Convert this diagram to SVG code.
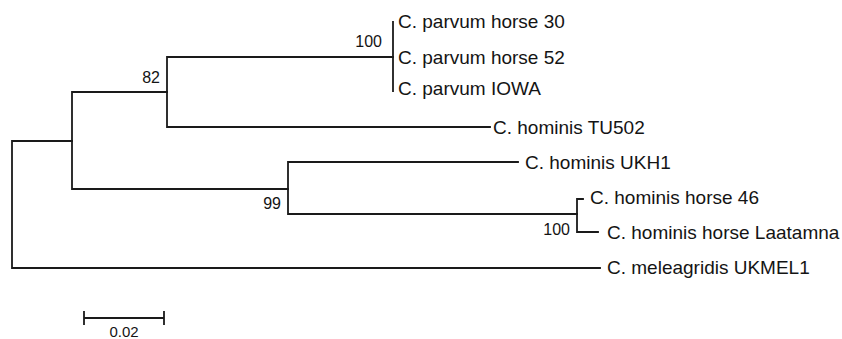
<svg xmlns="http://www.w3.org/2000/svg" width="842" height="339" viewBox="0 0 842 339">
<style>
.br{stroke:#1a1a1a;stroke-width:1.8;fill:none;stroke-linecap:square}
.leaf{font-family:"Liberation Sans",Arial,sans-serif;font-size:19px;fill:#141414}
.bs{font-family:"Liberation Sans",Arial,sans-serif;font-size:16px;fill:#141414;text-anchor:end}
.sc{font-family:"Liberation Sans",Arial,sans-serif;font-size:15px;fill:#141414;text-anchor:middle}
</style>
<rect width="842" height="339" fill="#ffffff"/>
<g id="connectors">
<path class="br" d="M12 141V268M12 141H72M12 268H600"/>
<path class="br" d="M72 92V189M72 92H167M72 189H288"/>
<path class="br" d="M167 57V127M167 57H393M167 127H490"/>
<path class="br" d="M393 22V91"/>
<path class="br" d="M288 162V214M288 162H518M288 214H577"/>
<path class="br" d="M577 199V232M577 199H583M577 232H598"/>
</g>
<g id="bootstrap">
<text class="bs" x="382" y="47">100</text>
<text class="bs" x="160" y="83">82</text>
<text class="bs" x="281" y="209">99</text>
<text class="bs" x="570" y="235">100</text>
</g>
<g id="leaf-parvum-horse30"><text class="leaf" x="398" y="28">C. parvum horse 30</text></g>
<g id="leaf-parvum-horse52"><text class="leaf" x="398" y="64">C. parvum horse 52</text></g>
<g id="leaf-parvum-iowa"><text class="leaf" x="398" y="95">C. parvum IOWA</text></g>
<g id="leaf-hominis-tu502"><text class="leaf" x="493" y="134">C. hominis TU502</text></g>
<g id="leaf-hominis-ukh1"><text class="leaf" x="525" y="169">C. hominis UKH1</text></g>
<g id="leaf-hominis-horse46"><text class="leaf" x="590" y="204">C. hominis horse 46</text></g>
<g id="leaf-hominis-laatamna"><text class="leaf" x="607" y="239">C. hominis horse Laatamna</text></g>
<g id="leaf-meleagridis"><text class="leaf" x="607" y="274">C. meleagridis UKMEL1</text></g>
<g id="scale-bar">
<path class="br" d="M84 318H164M84 312V324M164 312V324"/>
<text class="sc" x="124" y="337">0.02</text>
</g>
</svg>
